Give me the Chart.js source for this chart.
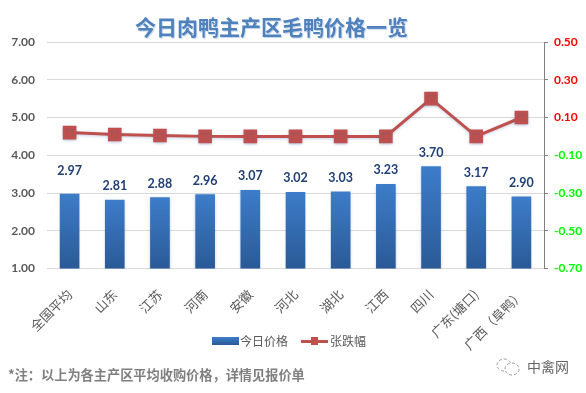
<!DOCTYPE html>
<html>
<head>
<meta charset="utf-8">
<script src="https://cdn.jsdelivr.net/npm/chart.js@4"></script>
<style>
    html, body { margin: 0; padding: 0; background: #fff; }
    #wrap { position: relative; width: 586px; height: 393px; overflow: hidden; font-family: "Noto Sans CJK SC", sans-serif; }
    #wrap canvas { position: absolute; left: 0; top: 0; }
    .txt { position: absolute; white-space: nowrap; line-height: 1; }
    #titulo { left: 135px; top: 16px; font-size: 21px; font-weight: 700; color: #4f81bd; text-shadow: 1px 1px 1px rgba(79,129,189,.35); }
    #nota { left: 8px; top: 368px; font-size: 13.2px; font-weight: 700; color: #7f7f7f; }
    #marca { left: 527px; top: 359px; font-size: 14px; color: #666; }
    .leyenda { top: 335px; font-size: 12px; color: #595959; }
    .swatch { position: absolute; }
</style>
</head>
<body>
<div id="wrap">
    <canvas id="precioChart" width="586" height="393"></canvas>
    <div class="txt" id="titulo"></div>
    <div class="swatch" style="left:212px;top:337px;width:27px;height:8px;background:linear-gradient(#3d7cc9,#2a5a96);"></div>
    <div class="txt leyenda" id="leyendaBarra" style="left:240px;"></div>
    <div class="swatch" style="left:301px;top:340px;width:27px;height:2.5px;background:#c0504d;"></div>
    <div class="swatch" style="left:311px;top:337px;width:7px;height:8px;background:#c0504d;"></div>
    <div class="txt leyenda" id="leyendaLinea" style="left:330px;"></div>
    <div class="txt" id="nota"></div>
    <svg class="swatch" style="left:495px;top:357px;" width="26" height="20" viewBox="0 0 26 20">
        <ellipse cx="9" cy="8" rx="7" ry="6" fill="none" stroke="#999" stroke-width="1" stroke-dasharray="3 2"/>
        <ellipse cx="17" cy="12" rx="7" ry="6" fill="#fff" stroke="#999" stroke-width="1" stroke-dasharray="3 2"/>
    </svg>
    <div class="txt" id="marca"></div>
</div>
<script>
// ========== DATOS ==========
const titulo = '今日肉鸭主产区毛鸭价格一览';
const nota = '*注：以上为各主产区平均收购价格，详情见报价单';
const marca = '中禽网';
const categorias = ['全国平均', '山东', '江苏', '河南', '安徽', '河北', '湖北', '江西', '四川', '广东(塘口)', '广西（阜鸭）'];
const nombreBarra = '今日价格';
const nombreLinea = '张跌幅';
const precios = [2.97, 2.81, 2.88, 2.96, 3.07, 3.02, 3.03, 3.23, 3.70, 3.17, 2.90];
const cambios = [0.02, 0.01, 0.005, 0, 0, 0, 0, 0, 0.20, 0, 0.10];

document.getElementById('titulo').textContent = titulo;
document.getElementById('nota').textContent = nota;
document.getElementById('marca').textContent = marca;
document.getElementById('leyendaBarra').textContent = nombreBarra;
document.getElementById('leyendaLinea').textContent = nombreLinea;

// Sombra suave en barras y linea
const sombraPlugin = {
    id: 'sombra',
    beforeDatasetDraw(chart) {
        chart.ctx.save();
        chart.ctx.shadowColor = 'rgba(60,100,170,0.3)';
        chart.ctx.shadowBlur = 3;
        chart.ctx.shadowOffsetY = 1;
    },
    afterDatasetDraw(chart) {
        chart.ctx.restore();
    }
};

// Etiquetas de valor encima de cada barra
const etiquetasPlugin = {
    id: 'etiquetas',
    afterDatasetsDraw(chart) {
        const ctx = chart.ctx;
        const barras = chart.getDatasetMeta(1).data;
        ctx.save();
        ctx.font = 'bold 12.5px Lato';
        ctx.fillStyle = '#1f3f75';
        ctx.textAlign = 'center';
        ctx.textBaseline = 'middle';
        barras.forEach((barra, i) => {
            const separacion = i === 0 ? 23 : 14;
            ctx.fillText(precios[i].toFixed(2), barra.x, barra.y - separacion);
        });
        ctx.restore();
    }
};

function degradadoBarra(context) {
    const chart = context.chart;
    if (!chart.chartArea || context.parsed === undefined) return '#3d7cc9';
    const escala = chart.scales.y;
    const g = chart.ctx.createLinearGradient(0, escala.getPixelForValue(context.parsed.y), 0, escala.getPixelForValue(1));
    g.addColorStop(0, '#3d7cc9');
    g.addColorStop(1, '#2a5a96');
    return g;
}

new Chart(document.getElementById('precioChart').getContext('2d'), {
    type: 'bar',
    data: {
        labels: categorias,
        datasets: [
            {
                type: 'line',
                label: nombreLinea,
                data: cambios,
                yAxisID: 'y1',
                borderColor: '#c0504d',
                backgroundColor: '#c0504d',
                borderWidth: 3,
                tension: 0,
                pointStyle: 'rect',
                pointRadius: 7.5,
                order: 1
            },
            {
                type: 'bar',
                label: nombreBarra,
                data: precios,
                yAxisID: 'y',
                backgroundColor: degradadoBarra,
                barThickness: 19,
                order: 2
            }
        ]
    },
    plugins: [sombraPlugin, etiquetasPlugin],
    options: {
        responsive: false,
        animation: false,
        layout: { padding: { top: 42, left: 0, right: 0, bottom: 0 } },
        plugins: {
            legend: { display: false },
            title: { display: false },
            tooltip: { enabled: false }
        },
        scales: {
            x: {
                grid: { display: false },
                border: { display: false },
                afterFit(escala) { escala.height = 124.5; },
                ticks: {
                    autoSkip: false,
                    maxRotation: 45,
                    minRotation: 45,
                    padding: 10,
                    color: '#595959',
                    font: { family: '"Noto Sans CJK SC"', size: 13 }
                }
            },
            y: {
                min: 1,
                max: 7,
                afterFit(escala) { escala.width = 47; },
                grid: { color: '#d9d9d9', drawTicks: false },
                border: { display: false },
                ticks: {
                    stepSize: 1,
                    padding: 12,
                    color: '#595959',
                    font: { family: 'Lato', size: 12, weight: 'bold' },
                    callback: v => v.toFixed(2)
                }
            },
            y1: {
                position: 'right',
                min: -0.7,
                max: 0.5,
                afterFit(escala) { escala.width = 42; },
                grid: { drawOnChartArea: false, color: '#808080', tickLength: 4 },
                border: { display: true, color: '#808080', width: 1 },
                ticks: {
                    stepSize: 0.2,
                    padding: 6,
                    color: context => context.tick.value > 0 ? '#ff0000' : '#00ff00',
                    font: { family: 'Lato', size: 12, weight: 'bold' },
                    callback: v => v.toFixed(2)
                }
            }
        }
    }
});
</script>
</body>
</html>
